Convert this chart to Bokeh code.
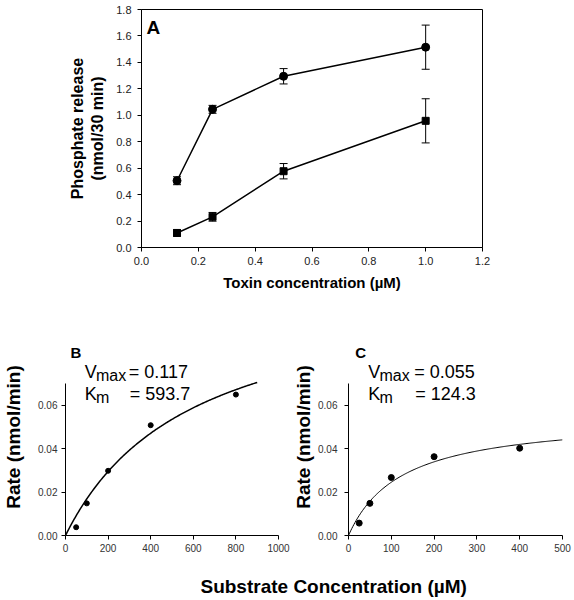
import numpy as np
from bokeh.plotting import figure
from bokeh.models import (Range1d, FixedTicker, PrintfTickFormatter, Label,
                          Whisker, TeeHead, ColumnDataSource)
from bokeh.layouts import column, row
from bokeh.embed import file_html
from bokeh.resources import INLINE

FONT = "Liberation Sans"

# ---------------- data ----------------
# Panel A
toxin_conc = [0.125, 0.25, 0.5, 1.0]
release_circle = [0.505, 1.045, 1.295, 1.515]
err_circle = [0.03, 0.03, 0.058, 0.167]
release_square = [0.11, 0.232, 0.577, 0.958]
err_square = [0.025, 0.033, 0.058, 0.167]
a_xticks = [0.0, 0.2, 0.4, 0.6, 0.8, 1.0, 1.2]
a_yticks = [0.0, 0.2, 0.4, 0.6, 0.8, 1.0, 1.2, 1.4, 1.6, 1.8]

# Panel B
b_substrate = [50, 100, 200, 400, 800]
b_rate = [0.0038, 0.0148, 0.0298, 0.0508, 0.0649]
b_vmax = 0.117
b_km = 593.7
b_fit_end = 900
b_xticks = [0, 200, 400, 600, 800, 1000]

# Panel C
c_substrate = [25, 50, 100, 200, 400]
c_rate = [0.0057, 0.0148, 0.0267, 0.0363, 0.0402]
c_vmax = 0.055
c_km = 124.3
c_fit_end = 500
c_xticks = [0, 100, 200, 300, 400, 500]

bc_yticks = [0.0, 0.02, 0.04, 0.06]
bc_ymax = 0.07


def style_axis(ax, size, color):
    ax.axis_line_color = "black"
    ax.axis_line_width = 1
    ax.major_tick_line_color = "black"
    ax.major_tick_in = 0
    ax.major_tick_out = 4
    ax.minor_tick_line_color = None
    ax.major_label_text_font = FONT
    ax.major_label_text_font_size = size
    ax.major_label_text_color = color
    ax.axis_label_text_font = FONT
    ax.axis_label_text_font_style = "bold"
    ax.axis_label_text_color = "black"


def add_text(p, x, y, text, size, bold=False):
    p.add_layout(Label(x=x, y=y, text=text, text_font=FONT, text_font_size=size,
                       text_font_style="bold" if bold else "normal",
                       text_color="black", text_align="left",
                       text_baseline="alphabetic"))


# ---------------- Panel A ----------------
pa = figure(width=574, height=300, output_backend="svg", toolbar_location=None,
            x_range=Range1d(0, 1.2), y_range=Range1d(0, 1.8),
            min_border_left=141, min_border_right=92, min_border_top=9,
            min_border_bottom=53)
pa.grid.visible = False
pa.outline_line_color = "black"
pa.outline_line_width = 1
pa.background_fill_color = "white"
pa.border_fill_color = "white"

for ax in pa.xaxis:
    style_axis(ax, "11px", "#222222")
    ax.ticker = FixedTicker(ticks=a_xticks)
    ax.formatter = PrintfTickFormatter(format="%.1f")
    ax.major_label_standoff = 5
    ax.axis_label = "Toxin concentration (µM)"
    ax.axis_label_text_font_size = "15px"
    ax.axis_label_standoff = 6
for ax in pa.yaxis:
    style_axis(ax, "11px", "#222222")
    ax.ticker = FixedTicker(ticks=a_yticks)
    ax.formatter = PrintfTickFormatter(format="%.1f")
    ax.major_label_standoff = 6
    ax.axis_label = "Phosphate release\n(nmol/30 min)"
    ax.axis_label_text_font_size = "16px"
    ax.axis_label_standoff = 7

src_c = ColumnDataSource(dict(
    x=toxin_conc,
    upper=[v + e for v, e in zip(release_circle, err_circle)],
    lower=[v - e for v, e in zip(release_circle, err_circle)]))
src_s = ColumnDataSource(dict(
    x=toxin_conc,
    upper=[v + e for v, e in zip(release_square, err_square)],
    lower=[v - e for v, e in zip(release_square, err_square)]))
for src in (src_c, src_s):
    pa.add_layout(Whisker(source=src, base="x", upper="upper", lower="lower",
                          line_color="black", line_width=1,
                          upper_head=TeeHead(size=8, line_color="black", line_width=1),
                          lower_head=TeeHead(size=8, line_color="black", line_width=1)))

pa.line(toxin_conc, release_circle, line_color="black", line_width=1.5)
pa.line(toxin_conc, release_square, line_color="black", line_width=1.5)
pa.scatter(toxin_conc, release_circle, marker="circle", size=8,
           fill_color="black", line_color="black")
pa.scatter(toxin_conc, release_square, marker="square", size=7,
           fill_color="black", line_color="black")

# "A" panel letter (frame is 341 x 238 px)
add_text(pa, 5 / 341 * 1.2, (238 - 18) / 238 * 1.8, "A", "19px", bold=True)


# ---------------- Panels B and C ----------------
AXIS_PX = 152      # pixel height of the 0..0.07 axis
FRAME_PX = 197     # frame height (extra room above the axis for the annotations)
RAISE = 5          # baseline correction, px


def kinetic_panel(width, left, right, xmax, xticks, subs, rate, vmax, km, fit_end,
                  dot_size, fit_width, ylab_standoff, tick_standoff, letter,
                  letter_dx, text_dx, eq_dx, vtext, ktext):
    uy = bc_ymax / AXIS_PX
    p = figure(width=width, height=265, output_backend="svg", toolbar_location=None,
               x_range=Range1d(0, xmax), y_range=Range1d(0, FRAME_PX * uy),
               min_border_left=left, min_border_right=right, min_border_top=38,
               min_border_bottom=30)
    p.grid.visible = False
    p.outline_line_color = None
    p.background_fill_color = "white"
    p.border_fill_color = "white"
    for ax in p.xaxis:
        style_axis(ax, "10px", "#333333")
        ax.ticker = FixedTicker(ticks=xticks)
        ax.formatter = PrintfTickFormatter(format="%d")
        ax.major_label_standoff = 4
    for ax in p.yaxis:
        style_axis(ax, "10px", "#333333")
        ax.ticker = FixedTicker(ticks=bc_yticks)
        ax.formatter = PrintfTickFormatter(format="%.2f")
        ax.bounds = (0, bc_ymax)
        ax.major_label_standoff = tick_standoff
        ax.axis_label = "Rate (nmol/min)"
        ax.axis_label_text_font_size = "19px"
        ax.axis_label_standoff = ylab_standoff

    fx = np.linspace(0, fit_end, 200)
    fy = vmax * fx / (km + fx)
    p.line(fx, fy, line_color="black", line_width=fit_width)
    p.scatter(subs, rate, marker="circle", size=dot_size,
              fill_color="black", line_color="black")

    fw = width - left - right
    ux = xmax / fw
    # pixel offsets measured above the frame bottom (frame bottom at y=535)
    def yy(py):
        return (535 - py + RAISE) * uy
    add_text(p, letter_dx * ux, yy(356.5), letter, "15px", bold=True)
    add_text(p, text_dx * ux, yy(376.7), "V", "18px")
    add_text(p, (text_dx + 11.5) * ux, yy(380), "max", "16px")
    add_text(p, (text_dx + eq_dx) * ux, yy(376.7), vtext, "18px")
    add_text(p, text_dx * ux, yy(398.3), "K", "18px")
    add_text(p, (text_dx + 11.5) * ux, yy(401.5), "m", "16px")
    add_text(p, (text_dx + eq_dx + 1) * ux, yy(398.3), ktext, "18px")
    return p


pb = kinetic_panel(290, 61, 12, 1000, b_xticks, b_substrate, b_rate, b_vmax, b_km,
                   b_fit_end, 5, 1.5, 11, 4, "B", 5, 19.5, 45,
                   "= %.3f" % b_vmax, "= %.1f" % b_km)
pc = kinetic_panel(284, 54, 12, 500, c_xticks, c_substrate, c_rate, c_vmax, c_km,
                   c_fit_end, 6, 1.0, 1, 7, "C", 7, 20, 47,
                   "= %.3f" % c_vmax, "= %.1f" % c_km)

# ---------------- shared x label ----------------
pl = figure(width=574, height=35, output_backend="svg", toolbar_location=None,
            x_range=Range1d(0, 574), y_range=Range1d(0, 35),
            x_axis_location=None, y_axis_location=None,
            min_border=0, min_border_left=0, min_border_right=0,
            min_border_top=0, min_border_bottom=0)
pl.grid.visible = False
pl.outline_line_color = None
pl.add_layout(Label(x=323.5, y=14, text="Substrate Concentration (µM)",
                    text_font=FONT, text_font_size="19px", text_font_style="bold",
                    text_color="black", text_align="center", text_baseline="middle"))

layout = column(pa, row(pb, pc, spacing=0), pl, spacing=0)

open("out.html", "w").write(file_html(layout, INLINE))
